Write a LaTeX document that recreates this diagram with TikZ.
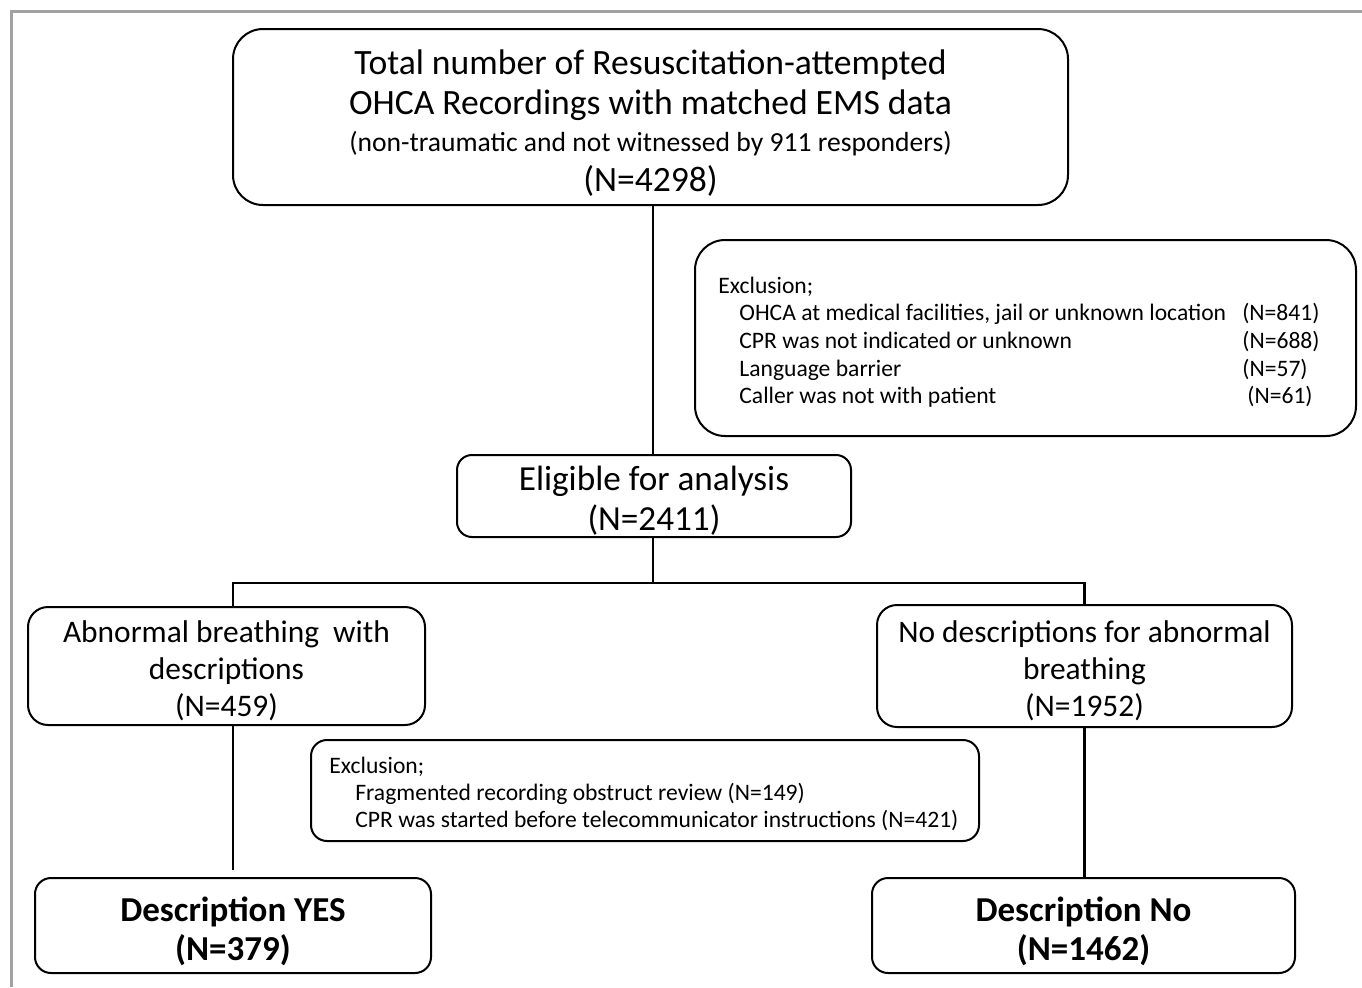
\documentclass[tikz,border=0pt]{standalone}
\usepackage{fontspec}
\setmainfont{Carlito}
\usepackage{tikz}
\usetikzlibrary{calc, positioning}

\tikzset{
  box/.style={draw, line width=1pt, inner sep=0pt},
  link/.style={line width=1.35pt},
  frame/.style={line width=1.5pt, color=black!37}
}

\begin{document}
\begin{tikzpicture}[x=0.5pt, y=0.5pt]
  \useasboundingbox (0,0) rectangle (1362,-987);
  \draw [frame] (11,-987) -- (11,-11) -- (1362,-11);

  % boxes
  \node (total) at (650.5,-117) [box, rounded corners=15pt, minimum width=417.5pt, minimum height=88pt] {};
  \node (excla) at (1025.5,-338) [box, rounded corners=15pt, minimum width=330.5pt, minimum height=98pt] {};
  \node (elig) at (654,-496) [box, rounded corners=7.5pt, minimum width=197pt, minimum height=41pt] {};
  \node (abn) at (226.5,-666) [box, rounded corners=10pt, minimum width=198.5pt, minimum height=59pt] {};
  \node (nodesc) at (1084.5,-666) [box, rounded corners=10pt, minimum width=207.5pt, minimum height=61pt] {};
  \node (exclb) at (645,-790.5) [box, rounded corners=8pt, minimum width=334pt, minimum height=50.5pt] {};
  \node (yes) at (233,-925.5) [box, rounded corners=8pt, minimum width=198pt, minimum height=47.5pt] {};
  \node (no) at (1083.5,-925.5) [box, rounded corners=8pt, minimum width=211.5pt, minimum height=47.5pt] {};

  % texts
  \node (totaltext) at ([yshift=-3.25pt]total.center) [align=center, font=\fontsize{17.8}{20}\selectfont]
    {Total number of Resuscitation-attempted\\
     OHCA Recordings with matched EMS data\\[-1.5pt]
     {\fontsize{13.8}{18.5}\selectfont (non-traumatic and not witnessed by 911 responders)}\\
     (N=4298)};
  \node (exclatext) at ([xshift=12pt, yshift=-2.5pt]excla.west) [anchor=west, inner sep=0pt,
    font=\fontsize{11.8}{13.8}\selectfont]
    {\begin{tabular}{@{}l@{}}
     Exclusion;\\
     \makebox[262pt][l]{\hspace*{10.5pt}OHCA at medical facilities, jail or unknown location}(N=841)\\
     \makebox[262pt][l]{\hspace*{10.5pt}CPR was not indicated or unknown}(N=688)\\
     \makebox[262pt][l]{\hspace*{10.5pt}Language barrier}(N=57)\\
     \makebox[264.5pt][l]{\hspace*{10.5pt}Caller was not with patient}(N=61)
     \end{tabular}};
  \node (eligtext) at ([yshift=-2.25pt]elig.center) [align=center, font=\fontsize{17.6}{20}\selectfont]
    {Eligible for analysis\\(N=2411)};
  \node (abntext) at ([yshift=-2.5pt]abn.center) [align=center, font=\fontsize{15.7}{18.5}\selectfont]
    {Abnormal breathing~ with\\descriptions\\(N=459)};
  \node (nodesctext) at ([yshift=-2.5pt]nodesc.center) [align=center, font=\fontsize{15.7}{18.5}\selectfont]
    {No descriptions for abnormal\\breathing\\(N=1952)};
  \node (exclbtext) at ([xshift=9.5pt, yshift=-2.5pt]exclb.west) [anchor=west, inner sep=0pt,
    font=\fontsize{11.8}{13.5}\selectfont]
    {\begin{tabular}{@{}l@{}}
     Exclusion;\\
     \hspace*{13pt}Fragmented recording obstruct review (N=149)\\
     \hspace*{13pt}CPR was started before telecommunicator instructions (N=421)
     \end{tabular}};
  \node (yestext) at ([yshift=-3pt]yes.center) [align=center, font=\fontsize{17.5}{19.5}\selectfont\bfseries]
    {Description YES\\(N=379)};
  \node (notext) at ([yshift=-3pt]no.center) [align=center, font=\fontsize{17.5}{19.5}\selectfont\bfseries]
    {Description No\\(N=1462)};

  % connectors
  \coordinate (split) at (653,-583);
  \draw [link] (total.south -| split) -- (elig.north -| split);
  \draw [link] ($(excla.west)+(0,2)$ -| split) -- ($(excla.west)+(0,2)$);
  \draw [link] (elig.south -| split) -- (split);
  \draw [link] (yes.north |- abn.north) -- (yes.north |- split) -- (nodesc.north |- split) -- (nodesc.north);
  \draw [link] (yes.north |- abn.south) -- ([yshift=3.5pt]yes.north);
  \draw [link] (nodesc.south) -- (nodesc.south |- no.north);
  \draw [link] ($(exclb.west)+(0,10)$ -| yes.north) -- ($(exclb.west)+(0,10)$);
  \draw [link] ($(exclb.east)+(0,10)$) -- ($(exclb.east)+(0,10)$ -| nodesc.south);
\end{tikzpicture}
\end{document}
